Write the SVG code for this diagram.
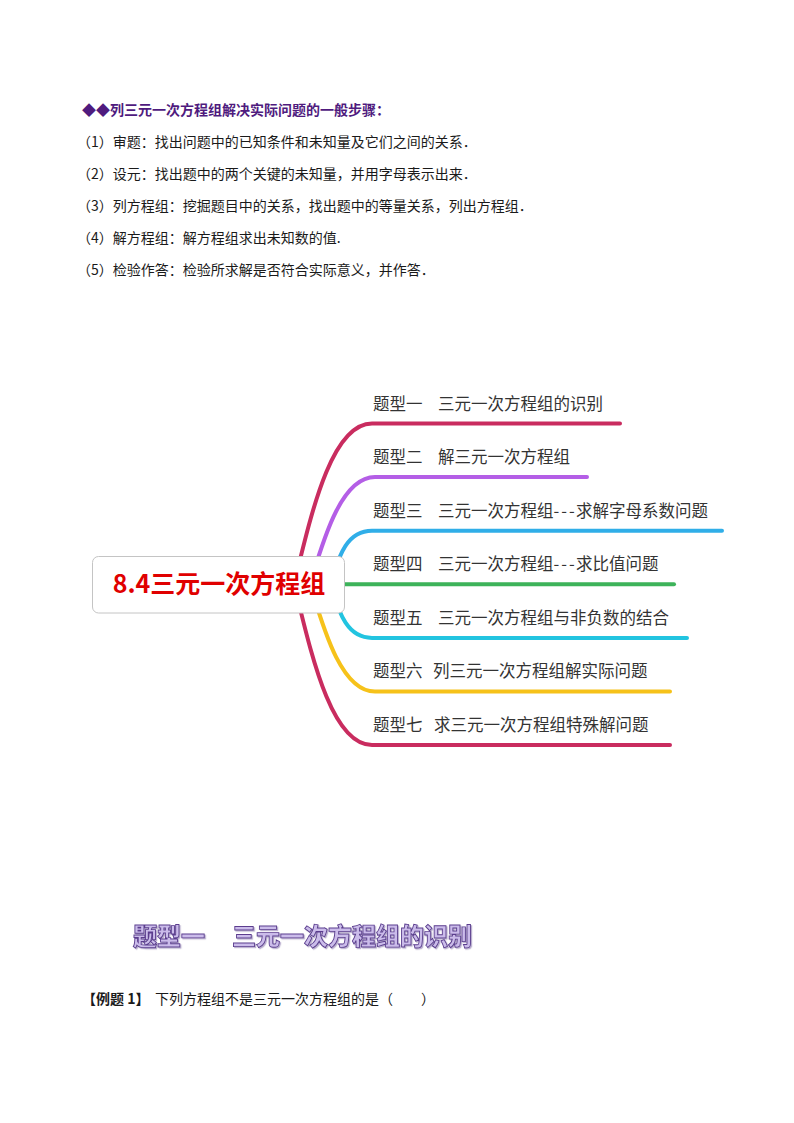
<svg xmlns="http://www.w3.org/2000/svg" width="794" height="1123" viewBox="0 0 794 1123">
<style>
.body{font-family:"Noto Sans CJK SC","Liberation Sans",sans-serif;font-size:14px;fill:#1a1a1a}
.head{font-family:"Noto Sans CJK SC","Liberation Sans",sans-serif;font-size:14px;font-weight:bold;fill:#4f1b7e}
.lbl{font-family:"Noto Sans CJK SC","Liberation Sans",sans-serif;font-size:16.5px;fill:#333333}
.br{fill:none;stroke-width:4;stroke-linecap:round}
.title{font-family:"Noto Sans CJK SC","Liberation Sans",sans-serif;font-size:24px;font-weight:900;fill:#cbbcea;stroke:#5b3e8e;stroke-width:0.9}
</style>
<defs>
<filter id="sh" x="-5%" y="-20%" width="110%" height="140%">
<feDropShadow dx="1.2" dy="1.2" stdDeviation="0.6" flood-color="#9a8ab8" flood-opacity="0.7"/>
</filter>
</defs>
<rect width="794" height="1123" fill="#ffffff"/>

<g id="steps">
<text class="head" x="82" y="115">◆◆列三元一次方程组解决实际问题的一般步骤：</text>
<text class="body" x="77" y="147">（1）审题：找出问题中的已知条件和未知量及它们之间的关系．</text>
<text class="body" x="77" y="179">（2）设元：找出题中的两个关键的未知量，并用字母表示出来．</text>
<text class="body" x="77" y="211">（3）列方程组：挖掘题目中的关系，找出题中的等量关系，列出方程组．</text>
<text class="body" x="77" y="243">（4）解方程组：解方程组求出未知数的值.</text>
<text class="body" x="77" y="275">（5）检验作答：检验所求解是否符合实际意义，并作答．</text>
</g>

<g id="connectors">
<path class="br" stroke="#c92c5f" d="M294 584 C310 520 330 423.5 372 423.5 L620 423.5"/>
<path class="br" stroke="#b45ee6" d="M310 584 C322 545 340 477.1 375 477.1 L587 477.1"/>
<path class="br" stroke="#30aee8" d="M330 584 C338 560 345 530.7 372 530.7 L722 530.7"/>
<path class="br" stroke="#3db35a" d="M330 584.3 L674 584.3"/>
<path class="br" stroke="#22c4e0" d="M330 584 C338 608 345 637.9 372 637.9 L687 637.9"/>
<path class="br" stroke="#f6c21a" d="M310 584 C322 623 340 691.5 375 691.5 L670 691.5"/>
<path class="br" stroke="#c92c5f" d="M294 584 C310 648 330 745.1 372 745.1 L670 745.1"/>
</g>

<g id="center">
<rect x="92.5" y="556.5" width="252" height="56.5" rx="6" fill="#ffffff" stroke="#c4c4c4" stroke-width="1"/>
<text x="219" y="593" text-anchor="middle" font-family="Noto Sans CJK SC, Liberation Sans, sans-serif" font-size="25" font-weight="bold" fill="#e00000">8.4三元一次方程组</text>
</g>

<g id="t1"><text class="lbl" x="373" y="409.5">题型一<tspan x="438">三元一次方程组的识别</tspan></text></g>
<g id="t2"><text class="lbl" x="373" y="463">题型二<tspan x="438">解三元一次方程组</tspan></text></g>
<g id="t3"><text class="lbl" x="373" y="516.5">题型三<tspan x="438">三元一次方程组</tspan><tspan letter-spacing="2">---</tspan><tspan x="576">求解字母系数问题</tspan></text></g>
<g id="t4"><text class="lbl" x="373" y="570">题型四<tspan x="438">三元一次方程组</tspan><tspan letter-spacing="2">---</tspan><tspan x="576">求比值问题</tspan></text></g>
<g id="t5"><text class="lbl" x="373" y="623.5">题型五<tspan x="438">三元一次方程组与非负数的结合</tspan></text></g>
<g id="t6"><text class="lbl" x="373" y="677">题型六<tspan x="433">列三元一次方程组解实际问题</tspan></text></g>
<g id="t7"><text class="lbl" x="373" y="730.5">题型七<tspan x="434">求三元一次方程组特殊解问题</tspan></text></g>

<g id="section-title" filter="url(#sh)">
<text class="title" x="133" y="945">题型一<tspan x="232">三元一次方程组的识别</tspan></text>
</g>

<g id="example">
<text class="body" x="82" y="1004"><tspan font-weight="bold">【例题 1】</tspan><tspan x="155">下列方程组不是三元一次方程组的是（　　）</tspan></text>
</g>
</svg>
